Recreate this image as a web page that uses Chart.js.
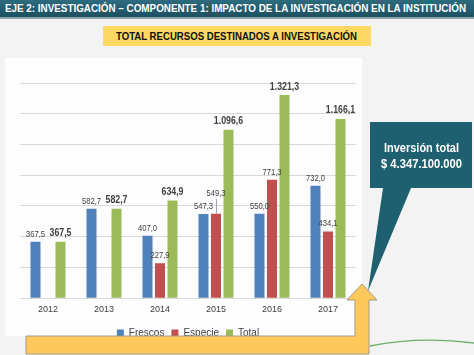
<!DOCTYPE html>
<html>
<head>
<meta charset="utf-8">
<script src="https://cdn.jsdelivr.net/npm/chart.js@4.4.1/dist/chart.umd.min.js"></script>
<style>
  html, body { margin:0; padding:0; }
  body { width:474px; height:355px; position:relative; overflow:hidden; background:#f3f3f3;
         font-family:"Liberation Sans",Arial,sans-serif; }
  .fit { display:inline-block; white-space:nowrap; position:absolute; transform-origin:0 50%; }
  #header { position:absolute; left:0; top:0; width:474px; height:17px;
            background:linear-gradient(#2d6b7e,#1c5060); border-bottom:2px solid #8ea3aa;
            color:#fff; font-weight:bold; font-size:10px; line-height:17px; }
  #subtitle { position:absolute; left:103px; top:26px; width:268px; height:20px; background:#fdd865;
              font-weight:bold; font-size:11px; line-height:20px; color:#111; }
  #panel { position:absolute; left:5px; top:58px; width:357px; height:278px; background:#fdfdfd; }
  #wrap { position:absolute; left:0; top:0; width:474px; height:355px; }
  svg { position:absolute; left:0; top:0; }
  #callout { position:absolute; left:370px; top:122px; width:102px; height:66px; color:#fff;
             font-weight:bold; font-size:13px; line-height:16px; }
</style>
</head>
<body>
<div id="header"><span class="fit" id="htxt" style="left:5px;top:0">EJE 2: INVESTIGACIÓN – COMPONENTE 1: IMPACTO DE LA INVESTIGACIÓN EN LA INSTITUCIÓN</span></div>
<div id="subtitle"><span class="fit" id="stxt" style="left:13px;top:0">TOTAL RECURSOS DESTINADOS A INVESTIGACIÓN</span></div>
<div id="panel"></div>
<div id="wrap"><canvas id="c" width="474" height="355"></canvas></div>
<svg width="474" height="355" viewBox="0 0 474 355">
  <path d="M370 346 Q 420 336 474 343" fill="none" stroke="#6fae6f" stroke-width="1.3"/>
  <polygon points="26,336 355,336 355,300 347,300 362,284 377,300 369,300 369,354 26,354"
           fill="#fec95a" stroke="#a39a80" stroke-width="1"/>
  <polygon points="370,122 472,122 472,188 411,188 368,291 383,188 370,188" fill="#1f6070"/>
</svg>
<div id="callout">
  <span class="fit" id="c1" style="top:18px">Inversión total</span>
  <span class="fit" id="c2" style="top:34px">$ 4.347.100.000</span>
</div>
<script>
const categories = ["2012","2013","2014","2015","2016","2017"];
const frescos = [367.5, 582.7, 407.0, 547.3, 550.0, 732.0];
const especie = [null, null, 227.9, 549.3, 771.3, 434.1];
const total   = [367.5, 582.7, 634.9, 1096.6, 1321.3, 1166.1];
const yTicks = [0, 200, 400, 600, 800, 1000, 1200, 1400];

function fit(id, width, centerIn) {
  const el = document.getElementById(id);
  const w = el.getBoundingClientRect().width;
  el.style.transform = 'scaleX(' + (width / w) + ')';
  if (centerIn) el.style.left = ((centerIn - width) / 2) + 'px';
}
fit('htxt', 461);
fit('stxt', 241);
fit('c1', 75, 102);
fit('c2', 81, 102);

function fmt(v) {
  return v.toLocaleString('de-DE', {minimumFractionDigits:1, maximumFractionDigits:1});
}

const labelFont = "'Liberation Sans',Arial,sans-serif";
const squeeze = 0.8;
const labelPlugin = {
  id: 'barLabels',
  afterDatasetsDraw(chart) {
    const ctx = chart.ctx;
    ctx.save();
    ctx.textAlign = 'center';
    ctx.textBaseline = 'bottom';
    const placed = categories.map(() => []);
    chart.data.datasets.forEach((ds, di) => {
      const meta = chart.getDatasetMeta(di);
      const big = di === 2;
      ctx.font = (big ? 'bold 11px ' : '9.5px ') + labelFont;
      meta.data.forEach((bar, i) => {
        const v = ds.data[i];
        if (v === null || v === undefined) return;
        const txt = fmt(v);
        const w = ctx.measureText(txt).width * squeeze;
        const h = big ? 10 : 9;
        let bottom = bar.y - 3;
        let rect = {l: bar.x - w/2, r: bar.x + w/2, t: bottom - h, b: bottom};
        let moved = false;
        placed[i].forEach(p => {
          if (rect.l < p.r && rect.r > p.l && rect.t < p.b && rect.b > p.t) {
            bottom = p.t - 4;
            rect = {l: rect.l, r: rect.r, t: bottom - h, b: bottom};
            moved = true;
          }
        });
        if (moved) {
          ctx.strokeStyle = '#a6a6a6';
          ctx.lineWidth = 1;
          ctx.beginPath();
          ctx.moveTo(Math.round(bar.x) + 0.5, bar.y);
          ctx.lineTo(Math.round(bar.x) + 0.5, bottom + 1);
          ctx.stroke();
        }
        placed[i].push(rect);
        ctx.fillStyle = '#404040';
        ctx.save();
        ctx.translate(bar.x, bottom);
        ctx.scale(squeeze, 1);
        ctx.fillText(txt, 0, 0);
        ctx.restore();
      });
    });
    ctx.restore();
  }
};

new Chart(document.getElementById('c'), {
  type: 'bar',
  data: {
    labels: categories,
    datasets: [
      { label: 'Frescos', data: frescos, backgroundColor: '#4f81bd' },
      { label: 'Especie', data: especie, backgroundColor: '#c0504d' },
      { label: 'Total',   data: total,   backgroundColor: '#9bbb59' }
    ]
  },
  options: {
    responsive: false,
    animation: false,
    layout: { padding: { left: 20, right: 118, top: 83, bottom: 7 } },
    datasets: { bar: { categoryPercentage: 0.67, barPercentage: 0.8 } },
    plugins: {
      legend: {
        position: 'bottom',
        labels: { boxWidth: 7, boxHeight: 7, padding: 7, color: '#404040',
                  font: { family: labelFont, size: 10 } }
      },
      tooltip: { enabled: false }
    },
    scales: {
      x: {
        grid: { display: false, drawTicks: false },
        border: { display: false },
        ticks: { color: '#404040', font: { family: labelFont, size: 9 }, padding: 6 }
      },
      y: {
        min: 0, max: 1400,
        afterBuildTicks(axis) { axis.ticks = yTicks.map(v => ({ value: v })); },
        grid: { color: '#d9d9d9', drawTicks: false },
        border: { display: false },
        ticks: { display: false }
      }
    }
  },
  plugins: [labelPlugin]
});
</script>
</body>
</html>
